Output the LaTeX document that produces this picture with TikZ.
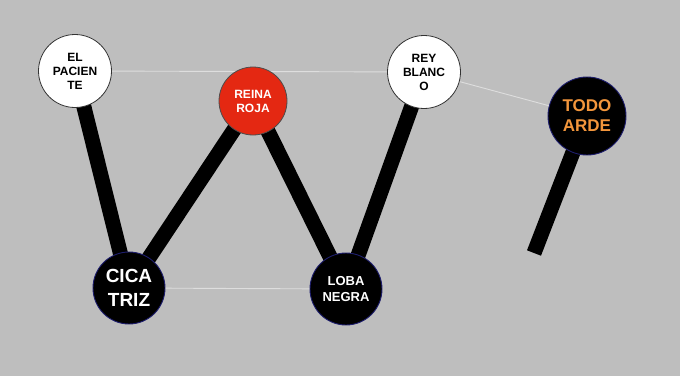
\documentclass[tikz,border=0pt]{standalone}
\usepackage{fontspec}
\setmainfont{Liberation Sans}
\pgfdeclarelayer{back}
\pgfsetlayers{back,main}
\definecolor{bggray}{RGB}{190,190,190}
\definecolor{thinline}{RGB}{222,222,222}
\definecolor{redfill}{RGB}{228,40,18}
\definecolor{orangetxt}{RGB}{243,150,60}
\definecolor{navyrim}{RGB}{30,30,110}
\tikzset{
  bubble/.style={circle, inner sep=0pt, align=center, font=\bfseries},
  whitebubble/.style={bubble, fill=white, draw=black!80, line width=0.8pt, minimum size=73pt, font=\bfseries\fontsize{12}{14}\selectfont},
  redbubble/.style={bubble, fill=redfill, draw=black!70, line width=0.8pt, minimum size=68pt, text=white, font=\bfseries\fontsize{12}{14}\selectfont},
  blackbubble/.style={bubble, fill=black, draw=navyrim, line width=0.9pt, minimum size=72pt, text=white},
  thick link/.style={line width=15pt, black},
  thin link/.style={line width=0.9pt, thinline}
}
\begin{document}
\begin{tikzpicture}[x=1pt,y=1pt]
\useasboundingbox (0,0) rectangle (680,376);
\node[whitebubble] (pac) at (75,305) {EL\\PACIEN\\TE};
\node[redbubble] (reina) at (253,275) {REINA\\ROJA};
\node[whitebubble] (rey) at (424,304) {REY\\BLANC\\O};
\node[blackbubble, minimum size=78pt, text=orangetxt, font=\bfseries\fontsize{17}{20}\selectfont] (todo) at (587,260) {TODO\\ARDE};
\node[blackbubble, font=\bfseries\fontsize{19}{24}\selectfont] (cica) at (129,88) {CICA\\TRIZ};
\node[blackbubble, font=\bfseries\fontsize{13}{16}\selectfont] (loba) at (346,87) {LOBA\\NEGRA};
\coordinate (stickend) at (534,123);
\begin{pgfonlayer}{back}
\fill[bggray] (0,0) rectangle (680,376);
\draw[thin link] (pac.center) -- (rey.center);
\draw[thin link] (rey.center) -- (todo.center);
\draw[thin link] (cica.center) -- (loba.center);
\draw[thick link] (pac.center) -- (cica.center);
\draw[thick link] (cica.center) -- (reina.center);
\draw[thick link] (reina.center) -- (loba.center);
\draw[thick link] (loba.center) -- (rey.center);
\draw[thick link] (todo.center) -- (stickend);
\end{pgfonlayer}
\end{tikzpicture}
\end{document}
